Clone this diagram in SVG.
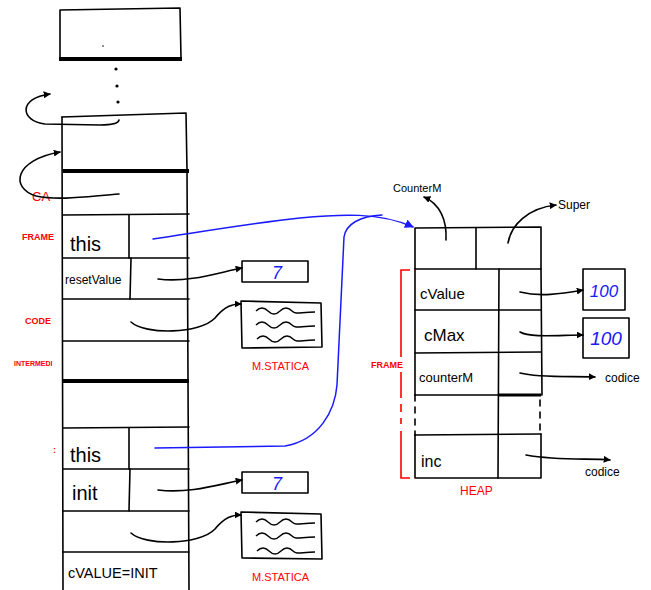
<svg xmlns="http://www.w3.org/2000/svg" width="651" height="590" viewBox="0 0 651 590">
<style>
.ln{fill:none;stroke:#000;stroke-width:1.6;stroke-linecap:round;stroke-linejoin:round}
.thick{fill:none;stroke:#000;stroke-width:4}
.bl{fill:none;stroke:#1a1aff;stroke-width:1.5;stroke-linecap:round}
.rd{fill:none;stroke:#ff0000;stroke-width:1.6}
.hw{font-family:"Liberation Sans","DejaVu Sans",sans-serif;fill:#000}
.red{font-family:"Liberation Sans","DejaVu Sans",sans-serif;fill:#ff0000;font-weight:bold}
.redn{font-family:"Liberation Sans","DejaVu Sans",sans-serif;fill:#ff0000;font-weight:normal}
.num{font-family:"Liberation Sans","DejaVu Sans",sans-serif;fill:#1a1aff;font-style:italic}
.wave{fill:none;stroke:#000;stroke-width:1.4}
</style>
<defs>
<marker id="ah" viewBox="0 0 10 10" refX="9" refY="5" markerWidth="7" markerHeight="7" orient="auto" markerUnits="userSpaceOnUse">
<path d="M0,0 L10,5 L0,10 z" fill="#000"/>
</marker>
<marker id="ahb" viewBox="0 0 10 10" refX="9" refY="5" markerWidth="9" markerHeight="9" orient="auto" markerUnits="userSpaceOnUse">
<path d="M0,0 L10,5 L0,10 z" fill="#1a1aff"/>
</marker>
</defs>

<g id="stack-top">
<path class="ln" d="M60,10 L180,8 L181,58 L60,59 Z"/>
<path class="thick" d="M59,59 L182,59"/>
<circle cx="103" cy="46" r="0.8" fill="#000"/>
<circle cx="116" cy="69" r="1.6" fill="#000"/>
<circle cx="117" cy="86" r="1.6" fill="#000"/>
<circle cx="118" cy="102" r="1.6" fill="#000"/>
</g>

<g id="stack">
<path class="ln" d="M62,117 L186,113 L187,170 L189,590"/>
<path class="ln" d="M62,117 L63,590"/>
<path class="thick" d="M63,171 L189,171"/>
<path class="ln" d="M63,215 L189,214"/>
<path class="ln" d="M63,258 L189,258"/>
<path class="ln" d="M63,299 L189,299"/>
<path class="ln" d="M63,341 L189,341"/>
<path class="thick" d="M63,381 L189,381"/>
<path class="ln" d="M63,428 L189,427"/>
<path class="ln" d="M63,469 L189,469"/>
<path class="ln" d="M63,511 L189,511"/>
<path class="ln" d="M63,552 L189,552"/>
<path class="ln" d="M129,215 L129,258"/>
<path class="ln" d="M131,258 L130,299"/>
<path class="ln" d="M129,428 L129,469"/>
<path class="ln" d="M130,469 L129,511"/>
</g>

<g id="frame1">
<text class="hw" x="70" y="251" font-size="20">this</text>
<text class="hw" x="65" y="284" font-size="12">resetValue</text>
</g>
<g id="frame2">
<text class="hw" x="70" y="462" font-size="20">this</text>
<text class="hw" x="72" y="500" font-size="20">init</text>
<text class="hw" x="68" y="578" font-size="14.5">cVALUE=INIT</text>
</g>

<g id="labels-left">
<text class="redn" x="32" y="201" font-size="13">CA</text>
<text class="red" x="22" y="240" font-size="9">FRAME</text>
<text class="red" x="25" y="324" font-size="9">CODE</text>
<text class="red" x="14" y="366" font-size="7">INTERMEDI</text>
<text class="red" x="53" y="453" font-size="9">:</text>
</g>

<g id="static1">
<rect class="ln" x="242" y="261" width="66" height="21"/>
<text class="num" x="272" y="279" font-size="18">7</text>
<path class="ln" d="M241,301 L321,303 L322,347 L242,348 Z"/>
<path class="wave" d="M256,311 c4,-4 8,-4 12,0 s8,4 12,0 s8,-4 12,0 s8,1 23,1"/>
<path class="wave" d="M256,325 c4,-4 8,-4 12,0 s8,4 12,0 s8,-4 12,0 s8,1 23,1"/>
<path class="wave" d="M257,339 c4,-4 8,-4 12,0 s8,4 12,0 s8,-4 12,0 s8,1 22,1"/>
<text class="redn" x="252" y="370" font-size="11">M.STATICA</text>
</g>

<g id="static2">
<rect class="ln" x="242" y="472" width="66" height="21"/>
<text class="num" x="272" y="490" font-size="18">7</text>
<path class="ln" d="M241,512 L321,514 L322,559 L242,558 Z"/>
<path class="wave" d="M256,522 c4,-4 8,-4 12,0 s8,4 12,0 s8,-4 12,0 s8,1 23,1"/>
<path class="wave" d="M256,536 c4,-4 8,-4 12,0 s8,4 12,0 s8,-4 12,0 s8,1 23,1"/>
<path class="wave" d="M257,551 c4,-4 8,-4 12,0 s8,4 12,0 s8,-4 12,0 s8,1 22,1"/>
<text class="redn" x="252" y="581" font-size="11">M.STATICA</text>
</g>

<g id="heap-object">
<path class="ln" d="M415,228 L541,227 L541,269 L415,269 Z"/>
<path class="ln" d="M476,228 L476,269"/>
<path class="ln" d="M415,269 L415,395"/>
<path class="ln" d="M541,269 L542,395"/>
<path class="ln" d="M415,310 L541,310"/>
<path class="ln" d="M415,353 L541,352"/>
<path class="ln" d="M415,395 L541,395"/>
<path class="thick" d="M498,395 L541,395" style="stroke-width:3"/>
<path class="ln" d="M415,395 L415,435" stroke-dasharray="6,6"/>
<path class="ln" d="M540,400 L540,435" stroke-dasharray="6,6"/>
<path class="ln" d="M415,435 L541,434"/>
<path class="ln" d="M415,435 L415,478 L541,478 L541,434"/>
<path class="ln" d="M499,269 L498,478"/>
<text class="hw" x="420" y="299" font-size="15">cValue</text>
<text class="hw" x="424" y="341" font-size="17">cMax</text>
<text class="hw" x="419" y="382" font-size="13">counterM</text>
<text class="hw" x="421" y="467" font-size="16">inc</text>
<text class="hw" x="393" y="192" font-size="11">CounterM</text>
<text class="hw" x="558" y="209" font-size="12">Super</text>
<text class="redn" x="460" y="495" font-size="12">HEAP</text>
<path class="rd" d="M410,270 L401,270 L401,357"/>
<path class="rd" d="M401,372 L401,398"/>
<path class="rd" d="M401,404 L401,412 M401,418 L401,424"/>
<path class="rd" d="M401,431 L401,478 L410,478"/>
<text class="red" x="371" y="368" font-size="9">FRAME</text>
</g>

<g id="values">
<rect class="ln" x="583" y="269" width="42" height="41"/>
<text class="num" x="604" y="297" font-size="17" text-anchor="middle">100</text>
<rect class="ln" x="583" y="318" width="46" height="40"/>
<text class="num" x="606" y="345" font-size="19" text-anchor="middle">100</text>
<text class="hw" x="605" y="382" font-size="12">codice</text>
<text class="hw" x="585" y="476" font-size="12">codice</text>
</g>

<g id="connectors">
<path class="ln" d="M119,120 Q118,125 100,125 L45,124 C20,121 18,98 50,94" marker-end="url(#ah)"/>
<path class="ln" d="M119,194 C90,196 60,201 36,196 C10,188 14,160 60,152" marker-end="url(#ah)"/>
<path class="ln" d="M158,279 C190,283 220,272 242,268" marker-end="url(#ah)"/>
<path class="ln" d="M131,322 C145,335 200,334 215,318 C225,306 232,304 241,304" marker-end="url(#ah)"/>
<path class="ln" d="M158,490 C190,494 220,484 242,480" marker-end="url(#ah)"/>
<path class="ln" d="M131,533 C145,546 200,545 215,529 C225,517 232,515 241,515" marker-end="url(#ah)"/>
<path class="ln" d="M446,240 C447,220 440,204 424,197" marker-end="url(#ah)"/>
<path class="ln" d="M508,243 C511,225 528,208 556,205" marker-end="url(#ah)"/>
<path class="ln" d="M520,292 C540,297 560,294 583,290" marker-end="url(#ah)"/>
<path class="ln" d="M520,332 C530,338 560,335 583,335" marker-end="url(#ah)"/>
<path class="ln" d="M520,373 C540,378 570,376 595,377" marker-end="url(#ah)"/>
<path class="ln" d="M526,455 C560,461 590,458 610,460" marker-end="url(#ah)"/>
<path class="bl" d="M153,239 C200,232 260,222 300,218 C340,214 380,212 413,227" marker-end="url(#ahb)"/>
<path class="bl" d="M155,448 L285,446 C320,440 335,410 337,385 L344,237 C346,224 360,216 382,215"/>
</g>
</svg>
